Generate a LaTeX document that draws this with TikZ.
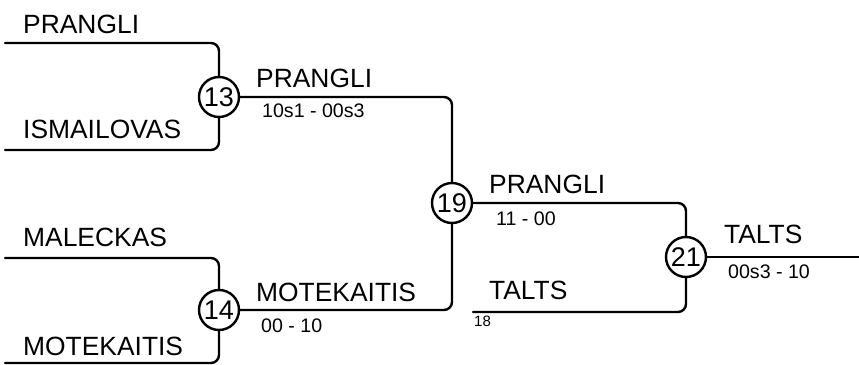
\documentclass[tikz,border=0pt]{standalone}
\usepackage{fontspec}
\setmainfont{Liberation Sans}
\usetikzlibrary{positioning}

\begin{document}
\begin{tikzpicture}[x=0.5pt, y=-0.5pt, line width=1.2pt, line cap=round, line join=round,
  match/.style={circle, draw, fill=white, minimum size=20pt, inner sep=0pt, font=\fontsize{13.5}{13.5}\selectfont},
  player/.style={anchor=base west, inner sep=0pt, font=\fontsize{13.2}{14}\selectfont},
  score/.style={anchor=base west, inner sep=0pt, font=\fontsize{9.8}{10}\selectfont},
  seedno/.style={anchor=base west, inner sep=0pt, font=\fontsize{7.5}{8}\selectfont},
  bracket/.style={rounded corners=4pt}]
\useasboundingbox (0,0) rectangle (859,365);
% matches
\node[match] (m13) at (219,97) {13};
\node[match] (m14) at (219,310) {14};
\node[match] (m19) at (452,203) {19};
\node[match] (m21) at (686,257) {21};
% entry lines
\coordinate (inA) at (5,43);
\coordinate (inB) at (5,150);
\coordinate (inC) at (5,258);
\coordinate (inD) at (5,363);
\coordinate (inE) at (473,312);
\coordinate (out) at (859,257);
\draw[bracket] (inA) -| (m13);
\draw[bracket] (inB) -| (m13);
\draw[bracket] (inC) -| (m14);
\draw[bracket] (inD) -| (m14);
\draw[bracket] (m13) -| (m19);
\draw[bracket] (m14) -| (m19);
\draw[bracket] (m19) -| (m21);
\draw[bracket] (inE) -| (m21);
\draw (m21) -- (out);
% players
\node[player] (pA) at (22,33) {PRANGLI};
\node[player] (pB) at (22,138) {ISMAILOVAS};
\node[player] (pC) at (22,246) {MALECKAS};
\node[player] (pD) at (22,355) {MOTEKAITIS};
\node[player] (w13) at (255,87) {PRANGLI};
\node[player] (w14) at (255,301) {MOTEKAITIS};
\node[player] (w19) at (488,193) {PRANGLI};
\node[player] (pE) at (488,299) {TALTS};
\node[player] (w21) at (723,243) {TALTS};
% scores
\node[score] (s13) at (261,117) {10s1 - 00s3};
\node[score] (s14) at (260,332) {00 - 10};
\node[score] (s19) at (495,225) {11 - 00};
\node[score] (s21) at (727,278) {00s3 - 10};
\node[seedno] (sE) at (473,326) {18};
\end{tikzpicture}
\end{document}
